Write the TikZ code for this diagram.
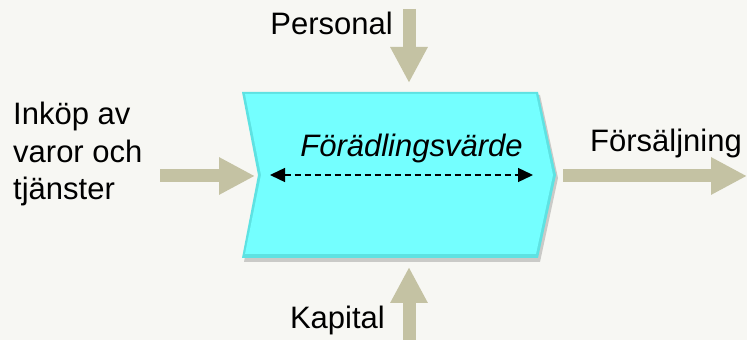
\documentclass[tikz,border=0pt]{standalone}
\usepackage{fontspec}
\setmainfont{Liberation Sans}
\usetikzlibrary{arrows.meta}
\definecolor{bg}{HTML}{F7F7F3}
\definecolor{flow}{HTML}{C4C2A3}
\definecolor{cyanfill}{HTML}{74FFFF}
\definecolor{cyanedge}{HTML}{5EE2E2}
\tikzstyle{fatarrow} = [line width=13pt, flow, -{Triangle[width=35pt,length=36pt]}]
\tikzstyle{dimarrow} = [line width=1.4pt, dash pattern=on 6pt off 4pt, {Triangle[width=14pt,length=15pt]}-{Triangle[width=14pt,length=15pt]}]
\tikzstyle{txt} = [inner sep=0pt, font=\fontsize{31}{37.5}\selectfont]

\begin{document}
\begin{tikzpicture}[x=1pt,y=1pt]
            \fill [bg] (0,0) rectangle (747,340);
            \useasboundingbox (0,0) rectangle (747,340);
            % value-adding step
            \fill [black, opacity=0.18] (244,245) -- (540,245) -- (558,162) -- (540,78) -- (244,78) -- (260,162) -- cycle;
            \fill [cyanedge] (242,248) -- (538,248) -- (556,165) -- (538,82) -- (242,82) -- (258,165) -- cycle;
            \fill [cyanfill] (245,246) -- (536,246) -- (553,165) -- (536,86) -- (245,86) -- (261,165) -- cycle;
            \node [txt, anchor=base, font=\fontsize{31}{37.5}\selectfont\itshape] at (411.5,183) (value) {Förädlingsvärde};
            \coordinate (vleft) at (270,165);
            \coordinate (vright) at (533,165);
            \draw [dimarrow] (vleft) -- (vright);
            % inputs and output
            \node [txt, anchor=base east] at (393,305) (personal) {Personal};
            \node [txt, anchor=base east] at (385,12) (kapital) {Kapital};
            \node [txt, anchor=north west, align=left] at (13,238) (inkop) {Inköp av\\varor och\\tjänster};
            \node [txt, anchor=base west] at (590,188) (sales) {Försäljning};
            \coordinate (pstart) at (409,331);
            \coordinate (pend) at (409,257);
            \coordinate (kstart) at (409,0);
            \coordinate (kend) at (409,73);
            \coordinate (istart) at (160,164);
            \coordinate (iend) at (255,164);
            \coordinate (sstart) at (563,164);
            \coordinate (send) at (747,164);
            \draw [fatarrow] (pstart) -- (pend);
            \draw [fatarrow] (kstart) -- (kend);
            \draw [fatarrow] (istart) -- (iend);
            \draw [fatarrow] (sstart) -- (send);
\end{tikzpicture}
\end{document}
